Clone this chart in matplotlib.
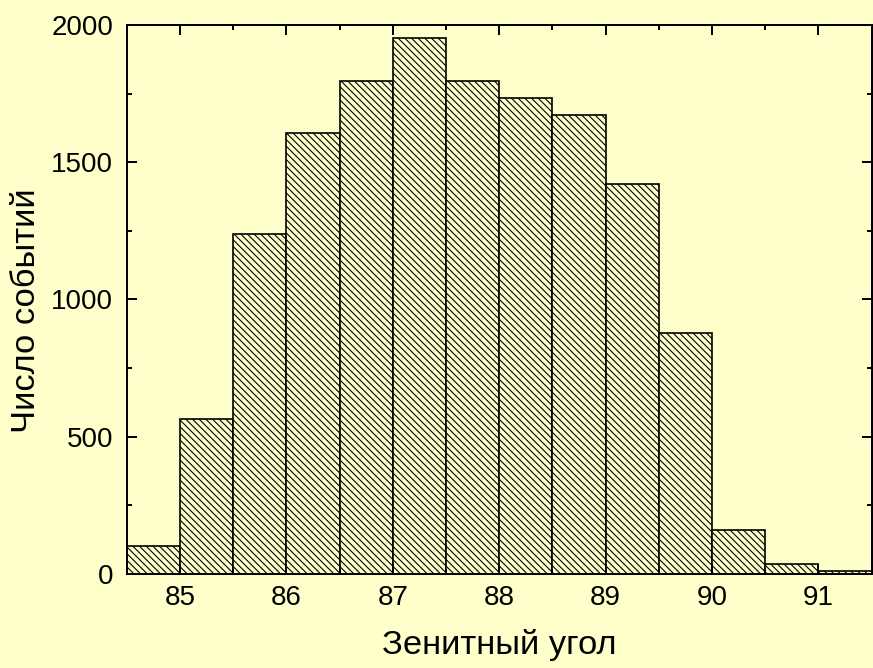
import numpy as np
import matplotlib.pyplot as plt
from matplotlib.ticker import MultipleLocator

# zenith angle bins (left edges, degrees) and event counts
bin_start = [84.5, 85.0, 85.5, 86.0, 86.5, 87.0, 87.5,
             88.0, 88.5, 89.0, 89.5, 90.0, 90.5, 91.0]
counts = [103, 565, 1239, 1605, 1797, 1951, 1797,
          1733, 1672, 1422, 877, 159, 35, 12]
bin_width = 0.5

bg = '#FFFFCC'

plt.rcParams['font.family'] = ['Liberation Sans', 'DejaVu Sans']
plt.rcParams['hatch.linewidth'] = 1.0

dpi = 80
fig = plt.figure(figsize=(873 / dpi, 668 / dpi), dpi=dpi, facecolor=bg)
ax = fig.add_axes([0.1451, 0.1407, 0.8534, 0.8219])
ax.set_facecolor(bg)

ax.bar(bin_start, counts, width=bin_width, align='edge',
       facecolor=bg, edgecolor='black', linewidth=1.5, hatch='\\\\\\\\')

ax.set_xlim(84.5, 91.5)
ax.set_ylim(0, 2000)
ax.xaxis.set_major_locator(MultipleLocator(1))
ax.xaxis.set_minor_locator(MultipleLocator(0.5))
ax.yaxis.set_major_locator(MultipleLocator(500))
ax.yaxis.set_minor_locator(MultipleLocator(250))

ax.tick_params(which='both', direction='in', top=True, right=True,
               width=1.8, labelsize=25, colors='black')
ax.tick_params(which='major', length=9)
ax.tick_params(axis='x', which='major', pad=10)
ax.tick_params(axis='y', which='major', pad=12)
ax.tick_params(which='minor', length=4.5)
for s in ax.spines.values():
    s.set_linewidth(1.8)

ax.set_xlabel('Зенитный угол', fontsize=31)
ax.set_ylabel('Число событий', fontsize=31)
ax.xaxis.set_label_coords(0.5, -0.10)
ax.yaxis.set_label_coords(-0.114, 0.48)

fig.savefig('out.png', dpi=dpi, facecolor=bg)
